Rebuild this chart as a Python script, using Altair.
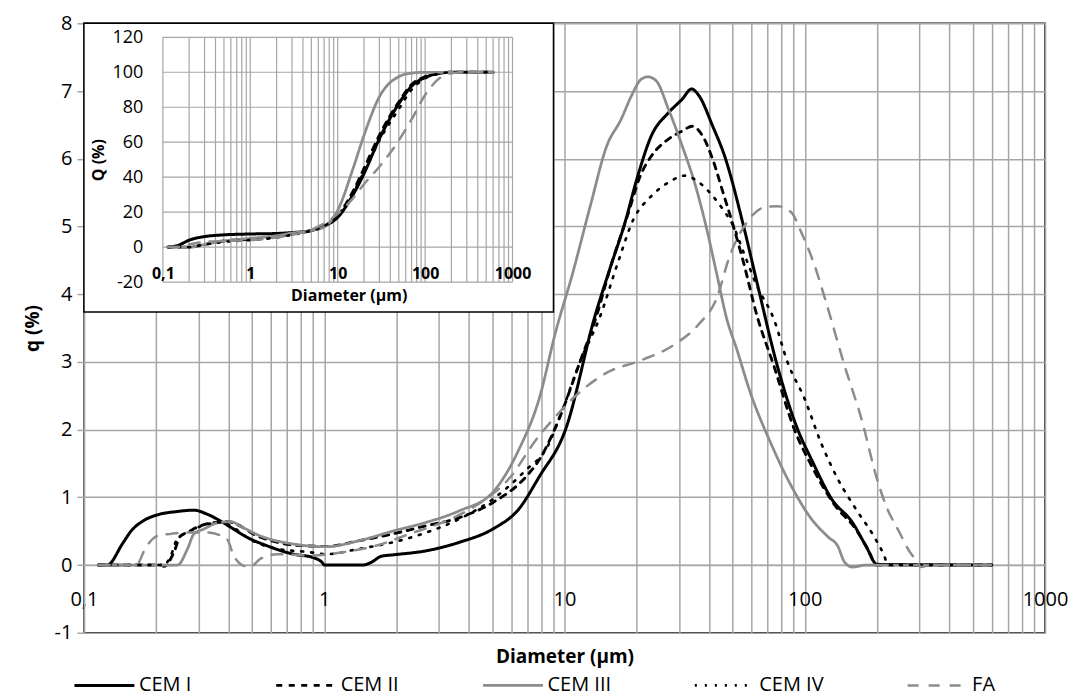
import altair as alt
import pandas as pd

SERIES = ["CEM I", "CEM II", "CEM III", "CEM IV", "FA"]
COLORS = ["#000000", "#000000", "#8c8c8c", "#000000", "#8c8c8c"]
DASHES = [[1, 0], [6, 6.5], [1, 0], [2, 8], [11, 10]]
WIDTHS = [3, 2.5, 3, 4, 2.5]

# ---- main chart: differential distribution q (%) ----
cem1_d = [0.115, 0.125, 0.145, 0.157, 0.178, 0.202, 0.244, 0.287, 0.326, 0.37, 0.42, 0.477, 0.577, 0.745, 0.90, 0.99, 1.0, 1.45, 1.57, 1.73, 1.93, 2.66, 3.65, 5.02, 6.47, 7.84, 10.1, 13.4, 15.6, 17.7, 20.2, 23.0, 27.1, 30.9, 33.8, 36.3, 41.4, 46.4, 55.6, 63.3, 76.9, 93.5, 106.6, 129.7, 157.8, 179.8, 200, 600]
cem1_q = [0, 0, 0.32, 0.5, 0.66, 0.74, 0.79, 0.81, 0.75, 0.65, 0.53, 0.41, 0.285, 0.16, 0.11, 0.02, 0.0, 0.0, 0.04, 0.13, 0.15, 0.21, 0.335, 0.53, 0.83, 1.3, 2.0, 3.68, 4.42, 5.01, 5.75, 6.34, 6.68, 6.88, 7.03, 6.93, 6.48, 6.04, 5.01, 4.17, 2.94, 2.0, 1.56, 0.97, 0.63, 0.28, 0.01, 0]

cem2_d = [0.115, 0.21, 0.215, 0.237, 0.252, 0.269, 0.305, 0.358, 0.394, 0.542, 0.745, 1.02, 1.4, 1.93, 2.66, 3.65, 5.02, 6.9, 7.84, 9.6, 11.6, 13.6, 15.6, 18.3, 20.7, 23.0, 27.1, 30.9, 34.0, 37.5, 41.4, 45.7, 50.4, 55.6, 63.3, 74.4, 90.6, 106.6, 133.9, 163, 185.7, 198, 600]
cem2_q = [0, 0, -0.02, 0.19, 0.43, 0.48, 0.58, 0.63, 0.64, 0.41, 0.295, 0.275, 0.36, 0.46, 0.58, 0.70, 0.92, 1.3, 1.55, 2.2, 3.0, 3.68, 4.42, 5.16, 5.75, 6.04, 6.29, 6.41, 6.48, 6.34, 5.99, 5.5, 5.01, 4.47, 3.68, 2.94, 2.0, 1.47, 0.875, 0.53, 0.19, 0.0, 0]

cem3_d = [0.115, 0.245, 0.27, 0.287, 0.315, 0.358, 0.407, 0.461, 0.542, 0.745, 1.02, 1.4, 1.93, 2.66, 3.65, 5.02, 6.47, 7.84, 9.2, 10.8, 12.8, 15.0, 17.2, 19.0, 20.8, 22.2, 24.1, 27.1, 30.9, 35.1, 38.8, 42.9, 47.4, 52.1, 59.3, 72, 87.8, 106.6, 125.5, 137, 146.6, 158, 180, 600]
cem3_q = [0, 0, 0.24, 0.46, 0.53, 0.62, 0.64, 0.55, 0.43, 0.31, 0.27, 0.36, 0.5, 0.63, 0.80, 1.07, 1.71, 2.45, 3.45, 4.3, 5.3, 6.19, 6.58, 6.93, 7.17, 7.21, 7.15, 6.73, 6.19, 5.6, 5.01, 4.32, 3.63, 3.19, 2.55, 1.81, 1.17, 0.68, 0.41, 0.285, 0.04, -0.03, 0, 0]

cem4_d = [0.115, 0.215, 0.23, 0.244, 0.27, 0.305, 0.37, 0.42, 0.491, 0.635, 0.87, 1.02, 1.4, 1.93, 2.66, 3.65, 5.02, 6.9, 8.5, 9.6, 11.6, 14.1, 16.7, 19.4, 23.0, 27.1, 31.8, 36.3, 41.4, 45.7, 50.4, 55.6, 63.3, 74.4, 84.9, 100, 116.7, 137.3, 163, 195, 214, 222, 600]
cem4_q = [0, 0, 0.14, 0.38, 0.48, 0.57, 0.63, 0.55, 0.38, 0.24, 0.19, 0.16, 0.24, 0.335, 0.48, 0.68, 0.97, 1.4, 1.75, 2.2, 3.0, 3.68, 4.47, 5.11, 5.45, 5.65, 5.75, 5.65, 5.45, 5.25, 5.01, 4.62, 4.12, 3.63, 2.99, 2.45, 1.81, 1.27, 0.83, 0.41, 0.14, 0.0, 0]

fa_d = [0.115, 0.165, 0.181, 0.202, 0.23, 0.27, 0.326, 0.394, 0.42, 0.455, 0.49, 0.542, 0.635, 0.87, 1.2, 1.64, 2.27, 3.11, 4.27, 5.86, 7.84, 8.7, 12.0, 15.0, 20.7, 28.8, 36.3, 42.9, 48.8, 57.4, 67.6, 76.9, 87.8, 96.8, 110, 121.5, 146.6, 174, 198, 218, 248, 274, 293, 305, 330, 600]
fa_q = [0, 0, 0.26, 0.43, 0.46, 0.48, 0.48, 0.38, 0.14, 0.0, -0.03, 0.09, 0.16, 0.14, 0.19, 0.285, 0.46, 0.63, 0.875, 1.27, 1.91, 2.1, 2.6, 2.84, 3.02, 3.26, 3.56, 3.93, 4.57, 5.06, 5.28, 5.3, 5.21, 4.91, 4.42, 3.93, 2.94, 2.1, 1.32, 0.875, 0.48, 0.19, 0.06, -0.03, 0, 0]

# ---- inset: cumulative distribution Q (%) ----
cum_d = [0.115, 0.15, 0.2, 0.3, 0.5, 1, 2, 3, 5, 7, 10, 15, 20, 30, 50, 70, 100, 150, 200, 300, 600]
cem1_Q = [0, 1, 4, 6, 7, 7.5, 7.8, 8.3, 9.5, 12, 17, 30, 42, 62, 82, 92, 97, 99.5, 100, 100, 100]
cem2_Q = [0, 0, 0, 1.5, 3.5, 4.5, 6, 7.5, 9.5, 12, 18, 32, 45, 64, 83, 93, 97.5, 99.5, 100, 100, 100]
cem3_Q = [0, 0, 0, 1.5, 3.5, 5, 6.5, 8, 9.5, 11.5, 21, 45, 64, 86, 97.5, 99.5, 100, 100, 100, 100, 100]
cem4_Q = [0, 0, 0, 1.5, 3, 4, 5.5, 7, 9.5, 12, 18, 31, 43, 61, 79, 90, 96.5, 99.3, 100, 100, 100]
fa_Q = [0, 0, 1.5, 3, 3.5, 4, 5.5, 7, 10, 13.5, 19, 28, 36, 46, 61, 73, 87, 97, 99.5, 100, 100]

X_LABEL_VALUES = [0.1, 1, 10, 100, 1000]
Y_MAIN_TICKS = [-1, 0, 1, 2, 3, 4, 5, 6, 7, 8]
Y_INSET_TICKS = [-20, 0, 20, 40, 60, 80, 100, 120]

FONT = "Open Sans"
GRID = "#a6a6a6"

grid_vals = [round(m * 10 ** e, 6) for e in range(-1, 3) for m in range(1, 10)] + [1000]
x_label_expr = ("datum.value == 0.1 ? '0,1' : (indexof([1, 10, 100, 1000], datum.value) >= 0 ? '' + datum.value : '')")

main_rows = []
for name, d, q in [("CEM I", cem1_d, cem1_q), ("CEM II", cem2_d, cem2_q), ("CEM III", cem3_d, cem3_q),
                   ("CEM IV", cem4_d, cem4_q), ("FA", fa_d, fa_q)]:
    for i, (dd, qq) in enumerate(zip(d, q)):
        main_rows.append({"d": dd, "q": qq, "s": name, "o": i})
main_df = pd.DataFrame(main_rows)

inset_rows = []
for name, Q in [("CEM I", cem1_Q), ("CEM II", cem2_Q), ("CEM III", cem3_Q), ("CEM IV", cem4_Q), ("FA", fa_Q)]:
    for i, (dd, qq) in enumerate(zip(cum_d, Q)):
        inset_rows.append({"d": dd, "Q": qq, "s": name, "o": i})
inset_df = pd.DataFrame(inset_rows)

legend = alt.Legend(title=None, orient="none", legendX=-11, legendY=631, direction="horizontal",
                    columns=5, symbolType="stroke", symbolSize=3600, labelFont=FONT,
                    labelFontSize=20, labelColor="black", labelOffset=3, columnPadding=78)

main_lines = alt.Chart(main_df).mark_line(strokeCap="round", strokeJoin="round", interpolate="monotone").encode(
    x=alt.X("d:Q", scale=alt.Scale(type="log", domain=[0.1, 1000], nice=False),
            axis=alt.Axis(values=grid_vals, labelExpr=x_label_expr, title="Diameter (µm)",
                          grid=True, gridColor=GRID, gridWidth=1.5, ticks=False,
                          domainColor=GRID, domainWidth=1.5, offset=-67.75, labelPadding=24,
                          labelFont=FONT, labelFontSize=20, labelColor="black", labelFlush=False,
                          labelOverlap=False, titleFont=FONT, titleFontSize=19, titleFontWeight="bold",
                          titleColor="black", titlePadding=39)),
    y=alt.Y("q:Q", scale=alt.Scale(domain=[-1, 8], nice=False, zero=False),
            axis=alt.Axis(values=Y_MAIN_TICKS, labelExpr="'' + datum.value", title="q (%)",
                          grid=True, gridColor=GRID, gridWidth=1.5, tickSize=7, tickColor=GRID,
                          tickWidth=1.5, domainColor=GRID, domainWidth=1.5, labelPadding=5,
                          labelFont=FONT, labelFontSize=20, labelColor="black",
                          titleFont=FONT, titleFontSize=19, titleFontWeight="bold", titleColor="black",
                          titlePadding=12)),
    color=alt.Color("s:N", scale=alt.Scale(domain=SERIES, range=COLORS), legend=legend),
    strokeDash=alt.StrokeDash("s:N", scale=alt.Scale(domain=SERIES, range=DASHES), legend=legend),
    strokeWidth=alt.StrokeWidth("s:N", scale=alt.Scale(domain=SERIES, range=WIDTHS), legend=legend),
    order="o:Q",
)

# white box of the inset chart (decoration)
frame = alt.Chart(pd.DataFrame({"k": [0]})).mark_rect(fill="white", stroke="black", strokeWidth=1.5).encode(
    x=alt.value(0), x2=alt.value(470), y=alt.value(0), y2=alt.value(289)
)

main_part = alt.layer(main_lines, frame)

# inset scales: placed inside the main plot area
ins_x = alt.Scale(type="log", domain=[0.1, 1000], range=[79, 429], nice=False)
ins_y = alt.Scale(domain=[-20, 120], range=[259, 14], nice=False, zero=False)

vgrid = alt.Chart(pd.DataFrame({"g": grid_vals, "lo": -20, "hi": 120})).mark_rule(
    color=GRID, strokeWidth=1.2).encode(
    x=alt.X("g:Q", scale=ins_x, axis=None),
    y=alt.Y("lo:Q", scale=ins_y, axis=None), y2="hi:Q")

hgrid = alt.Chart(pd.DataFrame({"t": Y_INSET_TICKS, "lo": 0.1, "hi": 1000})).mark_rule(
    color=GRID, strokeWidth=1.2).encode(
    x=alt.X("lo:Q", scale=ins_x, axis=None), x2="hi:Q",
    y=alt.Y("t:Q", scale=ins_y, axis=None))

inset_lines = alt.Chart(inset_df).mark_line(strokeCap="round", strokeJoin="round", interpolate="monotone").encode(
    x=alt.X("d:Q", scale=ins_x,
            axis=alt.Axis(orient="bottom", offset=-386, values=X_LABEL_VALUES, labelExpr=x_label_expr,
                          title="Diameter (µm)", grid=False, ticks=False, domain=False, labelPadding=18,
                          labelFont=FONT, labelFontSize=16, labelFontWeight="bold", labelColor="black",
                          labelFlush=False, labelOverlap=False, titleFont=FONT, titleFontSize=16,
                          titleFontWeight="bold", titleColor="black", titlePadding=6, titleX=265,
                          zindex=1)),
    y=alt.Y("Q:Q", scale=ins_y,
            axis=alt.Axis(orient="left", offset=-79, values=Y_INSET_TICKS, labelExpr="'' + datum.value",
                          title="Q (%)", grid=False, ticks=False, domain=False, labelPadding=20,
                          labelFont=FONT, labelFontSize=18, labelColor="black",
                          titleFont=FONT, titleFontSize=16, titleFontWeight="bold", titleColor="black",
                          titlePadding=6, zindex=1)),
    color=alt.Color("s:N", scale=alt.Scale(domain=SERIES, range=COLORS), legend=None),
    strokeDash=alt.StrokeDash("s:N", scale=alt.Scale(domain=SERIES, range=DASHES), legend=None),
    strokeWidth=alt.StrokeWidth("s:N", scale=alt.Scale(domain=SERIES, range=WIDTHS), legend=None),
    order="o:Q",
)

inset_part = alt.layer(vgrid, hgrid, inset_lines).resolve_axis(x="independent", y="independent")

chart = alt.layer(main_part, inset_part).resolve_scale(
    x="independent", y="independent", color="independent",
    strokeDash="independent", strokeWidth="independent"
).properties(
    width=962, height=610, view=alt.ViewBackground(stroke="black", strokeWidth=1.5),
    padding={"left": 15, "top": 5, "right": 0, "bottom": 0}, background="white"
)

chart.save("out.html", embed_options={"renderer": "svg", "actions": False})
